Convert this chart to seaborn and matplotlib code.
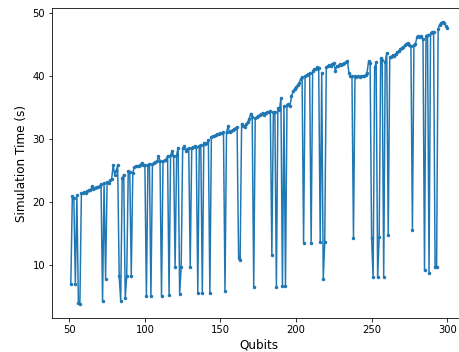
import numpy as np
import matplotlib
matplotlib.use("Agg")
import matplotlib.pyplot as plt
import seaborn as sns

# qubit counts 51..300, one run each
qubits = np.arange(51, 301)

sim_time = [
    7.0, 21.0, 20.7, 7.1, 21.1, 4.1, 3.9, 21.5, 21.5, 21.6,
    21.5, 21.8, 22.0, 21.9, 22.6, 22.2, 22.3, 22.5, 22.4, 22.6,
    22.9, 4.3, 23.0, 7.9, 23.2, 23.1, 23.5, 23.7, 25.9, 24.4,
    25.0, 25.9, 8.3, 4.4, 23.8, 24.4, 4.8, 8.4, 25.0, 24.8,
    8.4, 24.7, 25.6, 25.7, 25.8, 25.8, 25.9, 26.3, 25.9, 26.0,
    5.1, 25.9, 26.1, 5.1, 26.1, 26.2, 26.4, 26.5, 27.3, 26.6,
    5.1, 26.5, 26.7, 26.8, 27.4, 5.3, 27.5, 28.1, 27.4, 9.7,
    27.5, 28.7, 5.4, 9.7, 28.6, 28.9, 28.2, 28.4, 28.6, 9.8,
    28.7, 28.8, 28.9, 28.8, 5.6, 29.0, 29.1, 5.7, 29.5, 29.2,
    29.4, 29.9, 5.6, 30.3, 30.5, 30.6, 30.7, 30.8, 30.9, 31.0,
    31.0, 31.1, 5.9, 31.1, 32.1, 31.1, 31.3, 31.5, 31.6, 31.8,
    32.0, 11.2, 10.9, 32.5, 32.1, 32.0, 32.4, 32.7, 33.3, 34.1,
    33.5, 6.6, 33.4, 33.5, 33.7, 33.9, 34.0, 34.2, 33.9, 34.2,
    34.3, 34.4, 34.5, 11.7, 34.4, 34.3, 6.6, 35.0, 34.6, 36.6,
    6.7, 35.3, 6.8, 35.4, 35.6, 35.3, 36.8, 37.6, 38.0, 38.3,
    38.6, 38.9, 39.5, 39.9, 13.6, 40.0, 40.2, 40.3, 40.5, 13.6,
    40.9, 41.1, 41.2, 41.4, 41.3, 13.7, 40.6, 7.8, 13.7, 41.4,
    41.6, 41.8, 41.6, 42.0, 42.1, 40.9, 41.6, 41.7, 41.9, 41.8,
    42.0, 42.1, 42.2, 42.5, 40.5, 40.1, 40.0, 14.3, 40.0, 39.9,
    40.0, 39.9, 40.0, 40.1, 40.0, 40.2, 40.6, 42.4, 42.1, 14.3,
    8.1, 41.4, 42.2, 8.1, 14.5, 42.9, 42.6, 8.1, 42.2, 43.7,
    14.9, 43.0, 43.1, 43.4, 43.2, 43.6, 43.8, 44.0, 44.3, 44.5,
    44.6, 44.9, 45.1, 45.3, 45.0, 44.8, 15.6, 45.0, 45.2, 46.2,
    46.4, 46.3, 46.4, 45.9, 9.2, 46.4, 46.6, 8.8, 46.8, 47.0,
    47.1, 9.7, 9.8, 47.5, 48.2, 48.5, 48.6, 48.5, 48.0, 47.6,
]

fig = plt.figure(figsize=(459 / 72, 352 / 72), dpi=72)
# axes run slightly past the right edge, like the cropped original
ax = fig.add_axes([52 / 459, 34 / 352, 414 / 459, 310 / 352])

sns.lineplot(x=qubits, y=sim_time, ax=ax, color="#1f77b4", linewidth=1.5,
             marker="o", markersize=3.5, markeredgewidth=0)

ax.set_xlabel("Qubits", fontsize=12)
ax.set_ylabel("Simulation Time (s)", fontsize=12)
ax.set_xticks([50, 100, 150, 200, 250, 300])
ax.set_yticks([10, 20, 30, 40, 50])
ax.tick_params(labelsize=10)

fig.savefig("out.png", dpi=72)
